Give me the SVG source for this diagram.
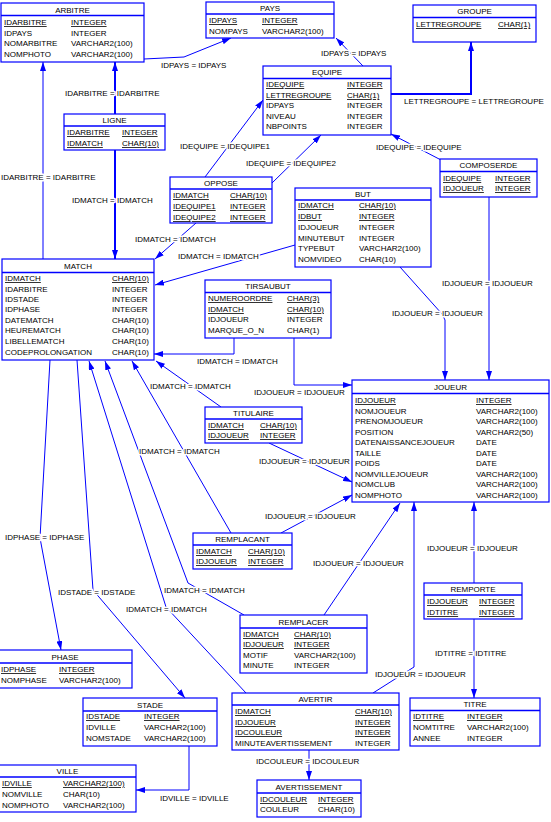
<svg xmlns="http://www.w3.org/2000/svg" width="551" height="822" viewBox="0 0 551 822">
<style>
.n rect{fill:#fff;stroke:#0000ff;stroke-width:1.2}
.n line{stroke:#0000ff;stroke-width:1.5}
text{font-family:"Liberation Sans",Arial,sans-serif;font-size:8px;fill:#000}
.t{text-anchor:middle}
.pk{text-decoration:underline}
.c polyline{fill:none;stroke:#0000ff;stroke-width:1;marker-end:url(#a)}
.c polyline.w{stroke-width:2}
.l text{paint-order:stroke;stroke:#fff;stroke-width:3px;stroke-linejoin:round}
</style>
<defs>
<marker id="a" viewBox="0 0 9 6" refX="9" refY="3" markerWidth="9" markerHeight="6" markerUnits="userSpaceOnUse" orient="auto">
<path d="M0,0 L9,3 L0,6 z" fill="#0000ff"/>
</marker>
</defs>
<rect width="551" height="822" fill="#fff"/>
<g id="connectors" class="c">
<polyline points="144,59 184,57 231,38"/>
<polyline points="363,66 336,38"/>
<polyline class="w" points="391,94 471,94 471,42"/>
<polyline points="441,160 391,134"/>
<polyline points="489,197 489,380"/>
<polyline class="w" points="115,114 115,62"/>
<polyline class="w" points="115,150 115,259"/>
<polyline points="43,259 43,62"/>
<polyline points="205,177 263,100"/>
<polyline points="272,183 321,135"/>
<polyline points="196,223 155,259"/>
<polyline points="295,245 155,285"/>
<polyline points="234,338 234,354 154,354"/>
<polyline points="294,338 294,385 352,385"/>
<polyline points="221,407 156,361"/>
<polyline points="269,443 352,482"/>
<polyline points="281,533 352,495"/>
<polyline points="231,533 132,361"/>
<polyline points="244,615 188,583 105,361"/>
<polyline points="246,693 166,607 89,361"/>
<polyline points="50,360 40,538 61,650"/>
<polyline points="77,360 93,590 185,698"/>
<polyline points="324,615 400,503"/>
<polyline points="373,693 414,667 414,502"/>
<polyline points="474,583 474,502"/>
<polyline points="474,619 474,698"/>
<polyline points="309,750 309,780"/>
<polyline points="189,746 189,790 136,790"/>
<polyline points="400,267 442,314 445,320 445,380"/>
</g>
<g id="labels" class="l">
<text x="161" y="68">IDPAYS = IDPAYS</text>
<text x="321" y="56">IDPAYS = IDPAYS</text>
<text x="404" y="104">LETTREGROUPE = LETTREGROUPE</text>
<text x="376" y="150">IDEQUIPE = IDEQUIPE</text>
<text x="442" y="286">IDJOUEUR = IDJOUEUR</text>
<text x="65" y="96">IDARBITRE = IDARBITRE</text>
<text x="72" y="203">IDMATCH = IDMATCH</text>
<text x="1" y="180">IDARBITRE = IDARBITRE</text>
<text x="180" y="149">IDEQUIPE = IDEQUIPE1</text>
<text x="246" y="166">IDEQUIPE = IDEQUIPE2</text>
<text x="135" y="242">IDMATCH = IDMATCH</text>
<text x="178" y="259">IDMATCH = IDMATCH</text>
<text x="197" y="364">IDMATCH = IDMATCH</text>
<text x="254" y="395">IDJOUEUR = IDJOUEUR</text>
<text x="150" y="389">IDMATCH = IDMATCH</text>
<text x="259" y="464">IDJOUEUR = IDJOUEUR</text>
<text x="265" y="519">IDJOUEUR = IDJOUEUR</text>
<text x="139" y="454">IDMATCH = IDMATCH</text>
<text x="164" y="593">IDMATCH = IDMATCH</text>
<text x="126" y="612">IDMATCH = IDMATCH</text>
<text x="5" y="540">IDPHASE = IDPHASE</text>
<text x="58" y="595">IDSTADE = IDSTADE</text>
<text x="313" y="566">IDJOUEUR = IDJOUEUR</text>
<text x="375" y="677">IDJOUEUR = IDJOUEUR</text>
<text x="427" y="551">IDJOUEUR = IDJOUEUR</text>
<text x="435" y="656">IDTITRE = IDTITRE</text>
<text x="256" y="764">IDCOULEUR = IDCOULEUR</text>
<text x="160" y="801">IDVILLE = IDVILLE</text>
<text x="392" y="316">IDJOUEUR = IDJOUEUR</text>
</g>
<g id="arbitre" class="n">
<rect x="1" y="3" width="143" height="59"/><line x1="1" y1="15.5" x2="144" y2="15.5"/>
<text class="t" x="72.5" y="13">ARBITRE</text>
<text class="pk" x="4" y="25">IDARBITRE</text><text class="pk" x="71" y="25">INTEGER</text>
<text x="4" y="36">IDPAYS</text><text x="71" y="36">INTEGER</text>
<text x="4" y="46">NOMARBITRE</text><text x="71" y="46">VARCHAR2(100)</text>
<text x="4" y="57">NOMPHOTO</text><text x="71" y="57">VARCHAR2(100)</text>
</g>
<g id="pays" class="n">
<rect x="206" y="2" width="128" height="36"/><line x1="206" y1="14" x2="334" y2="14"/>
<text class="t" x="270" y="11">PAYS</text>
<text class="pk" x="209" y="23">IDPAYS</text><text class="pk" x="262" y="23">INTEGER</text>
<text x="209" y="34">NOMPAYS</text><text x="262" y="34">VARCHAR2(100)</text>
</g>
<g id="groupe" class="n">
<rect x="413" y="5" width="123" height="37"/><line x1="413" y1="17.5" x2="536" y2="17.5"/>
<text class="t" x="474.5" y="14">GROUPE</text>
<text class="pk" x="416" y="27">LETTREGROUPE</text><text class="pk" x="498" y="27">CHAR(1)</text>
</g>
<g id="equipe" class="n">
<rect x="263" y="66" width="128" height="69"/><line x1="263" y1="78.5" x2="391" y2="78.5"/>
<text class="t" x="327" y="75">EQUIPE</text>
<text class="pk" x="266" y="87">IDEQUIPE</text><text class="pk" x="347" y="87">INTEGER</text>
<text class="pk" x="266" y="98">LETTREGROUPE</text><text class="pk" x="347" y="98">CHAR(1)</text>
<text x="266" y="108">IDPAYS</text><text x="347" y="108">INTEGER</text>
<text x="266" y="119">NIVEAU</text><text x="347" y="119">INTEGER</text>
<text x="266" y="129">NBPOINTS</text><text x="347" y="129">INTEGER</text>
</g>
<g id="composerde" class="n">
<rect x="440" y="159" width="97" height="38"/><line x1="440" y1="171.5" x2="537" y2="171.5"/>
<text class="t" x="488.5" y="168">COMPOSERDE</text>
<text class="pk" x="443" y="181">IDEQUIPE</text><text class="pk" x="495" y="181">INTEGER</text>
<text class="pk" x="443" y="191">IDJOUEUR</text><text class="pk" x="495" y="191">INTEGER</text>
</g>
<g id="ligne" class="n">
<rect x="64" y="114" width="101" height="36"/><line x1="64" y1="126" x2="165" y2="126"/>
<text class="t" x="114.5" y="123">LIGNE</text>
<text class="pk" x="67" y="135">IDARBITRE</text><text class="pk" x="122" y="135">INTEGER</text>
<text class="pk" x="67" y="146">IDMATCH</text><text class="pk" x="122" y="146">CHAR(10)</text>
</g>
<g id="oppose" class="n">
<rect x="170" y="177" width="102" height="46"/><line x1="170" y1="189" x2="272" y2="189"/>
<text class="t" x="221" y="186">OPPOSE</text>
<text class="pk" x="173" y="198">IDMATCH</text><text class="pk" x="230" y="198">CHAR(10)</text>
<text class="pk" x="173" y="209">IDEQUIPE1</text><text class="pk" x="230" y="209">INTEGER</text>
<text class="pk" x="173" y="220">IDEQUIPE2</text><text class="pk" x="230" y="220">INTEGER</text>
</g>
<g id="but" class="n">
<rect x="295" y="188" width="136" height="79"/><line x1="295" y1="200" x2="431" y2="200"/>
<text class="t" x="363" y="197">BUT</text>
<text class="pk" x="298" y="208">IDMATCH</text><text class="pk" x="359" y="208">CHAR(10)</text>
<text class="pk" x="298" y="219">IDBUT</text><text class="pk" x="359" y="219">INTEGER</text>
<text x="298" y="230">IDJOUEUR</text><text x="359" y="230">INTEGER</text>
<text x="298" y="241">MINUTEBUT</text><text x="359" y="241">INTEGER</text>
<text x="298" y="251">TYPEBUT</text><text x="359" y="251">VARCHAR2(100)</text>
<text x="298" y="262">NOMVIDEO</text><text x="359" y="262">CHAR(10)</text>
</g>
<g id="match" class="n">
<rect x="2" y="259" width="152" height="101"/><line x1="2" y1="272.5" x2="154" y2="272.5"/>
<text class="t" x="78" y="269">MATCH</text>
<text class="pk" x="5" y="281">IDMATCH</text><text class="pk" x="112" y="281">CHAR(10)</text>
<text x="5" y="291.5">IDARBITRE</text><text x="112" y="291.5">INTEGER</text>
<text x="5" y="302">IDSTADE</text><text x="112" y="302">INTEGER</text>
<text x="5" y="312">IDPHASE</text><text x="112" y="312">INTEGER</text>
<text x="5" y="323">DATEMATCH</text><text x="112" y="323">CHAR(10)</text>
<text x="5" y="333">HEUREMATCH</text><text x="112" y="333">CHAR(10)</text>
<text x="5" y="344">LIBELLEMATCH</text><text x="112" y="344">CHAR(10)</text>
<text x="5" y="355">CODEPROLONGATION</text><text x="112" y="355">CHAR(10)</text>
</g>
<g id="tirsaubut" class="n">
<rect x="205" y="280" width="126" height="58"/><line x1="205" y1="292.5" x2="331" y2="292.5"/>
<text class="t" x="268" y="289">TIRSAUBUT</text>
<text class="pk" x="208" y="301">NUMEROORDRE</text><text class="pk" x="287" y="301">CHAR(3)</text>
<text class="pk" x="208" y="312">IDMATCH</text><text class="pk" x="287" y="312">CHAR(10)</text>
<text x="208" y="322">IDJOUEUR</text><text x="287" y="322">INTEGER</text>
<text x="208" y="333">MARQUE_O_N</text><text x="287" y="333">CHAR(1)</text>
</g>
<g id="joueur" class="n">
<rect x="352" y="380" width="197" height="122"/><line x1="352" y1="393.5" x2="549" y2="393.5"/>
<text class="t" x="450.5" y="390">JOUEUR</text>
<text class="pk" x="355" y="403">IDJOUEUR</text><text class="pk" x="476" y="403">INTEGER</text>
<text x="355" y="413.5">NOMJOUEUR</text><text x="476" y="413.5">VARCHAR2(100)</text>
<text x="355" y="424">PRENOMJOUEUR</text><text x="476" y="424">VARCHAR2(100)</text>
<text x="355" y="434.5">POSITION</text><text x="476" y="434.5">VARCHAR2(50)</text>
<text x="355" y="445">DATENAISSANCEJOUEUR</text><text x="476" y="445">DATE</text>
<text x="355" y="455.5">TAILLE</text><text x="476" y="455.5">DATE</text>
<text x="355" y="466">POIDS</text><text x="476" y="466">DATE</text>
<text x="355" y="476.5">NOMVILLEJOUEUR</text><text x="476" y="476.5">VARCHAR2(100)</text>
<text x="355" y="487">NOMCLUB</text><text x="476" y="487">VARCHAR2(100)</text>
<text x="355" y="497.5">NOMPHOTO</text><text x="476" y="497.5">VARCHAR2(100)</text>
</g>
<g id="titulaire" class="n">
<rect x="205" y="407" width="97" height="36"/><line x1="205" y1="419" x2="302" y2="419"/>
<text class="t" x="253.5" y="416">TITULAIRE</text>
<text class="pk" x="208" y="428">IDMATCH</text><text class="pk" x="260" y="428">CHAR(10)</text>
<text class="pk" x="208" y="438">IDJOUEUR</text><text class="pk" x="260" y="438">INTEGER</text>
</g>
<g id="remplacant" class="n">
<rect x="193" y="533" width="99" height="36"/><line x1="193" y1="545" x2="292" y2="545"/>
<text class="t" x="242.5" y="542">REMPLACANT</text>
<text class="pk" x="196" y="554">IDMATCH</text><text class="pk" x="248" y="554">CHAR(10)</text>
<text class="pk" x="196" y="564">IDJOUEUR</text><text class="pk" x="248" y="564">INTEGER</text>
</g>
<g id="remplacer" class="n">
<rect x="240" y="615" width="127" height="58"/><line x1="240" y1="628" x2="367" y2="628"/>
<text class="t" x="303.5" y="625">REMPLACER</text>
<text class="pk" x="243" y="637">IDMATCH</text><text class="pk" x="294" y="637">CHAR(10)</text>
<text class="pk" x="243" y="647">IDJOUEUR</text><text class="pk" x="294" y="647">INTEGER</text>
<text x="243" y="658">MOTIF</text><text x="294" y="658">VARCHAR2(100)</text>
<text x="243" y="668">MINUTE</text><text x="294" y="668">INTEGER</text>
</g>
<g id="remporte" class="n">
<rect x="424" y="583" width="98" height="36"/><line x1="424" y1="595" x2="522" y2="595"/>
<text class="t" x="473" y="592">REMPORTE</text>
<text class="pk" x="427" y="604">IDJOUEUR</text><text class="pk" x="479" y="604">INTEGER</text>
<text class="pk" x="427" y="615">IDTITRE</text><text class="pk" x="479" y="615">INTEGER</text>
</g>
<g id="titre" class="n">
<rect x="410" y="698" width="130" height="48"/><line x1="410" y1="710.5" x2="540" y2="710.5"/>
<text class="t" x="475" y="707">TITRE</text>
<text class="pk" x="413" y="719">IDTITRE</text><text class="pk" x="467" y="719">INTEGER</text>
<text x="413" y="730">NOMTITRE</text><text x="467" y="730">VARCHAR2(100)</text>
<text x="413" y="741">ANNEE</text><text x="467" y="741">INTEGER</text>
</g>
<g id="avertir" class="n">
<rect x="232" y="693" width="167" height="57"/><line x1="232" y1="705" x2="399" y2="705"/>
<text class="t" x="315.5" y="702">AVERTIR</text>
<text class="pk" x="235" y="714">IDMATCH</text><text class="pk" x="355" y="714">CHAR(10)</text>
<text class="pk" x="235" y="725">IDJOUEUR</text><text class="pk" x="355" y="725">INTEGER</text>
<text class="pk" x="235" y="735">IDCOULEUR</text><text class="pk" x="355" y="735">INTEGER</text>
<text x="235" y="746">MINUTEAVERTISSEMENT</text><text x="355" y="746">INTEGER</text>
</g>
<g id="avertissement" class="n">
<rect x="257" y="780" width="104" height="37"/><line x1="257" y1="793" x2="361" y2="793"/>
<text class="t" x="309" y="790">AVERTISSEMENT</text>
<text class="pk" x="260" y="802">IDCOULEUR</text><text class="pk" x="318" y="802">INTEGER</text>
<text x="260" y="812">COULEUR</text><text x="318" y="812">CHAR(10)</text>
</g>
<g id="phase" class="n">
<rect x="-2" y="650" width="134" height="38"/><line x1="-2" y1="663" x2="132" y2="663"/>
<text class="t" x="65" y="660">PHASE</text>
<text class="pk" x="1" y="672">IDPHASE</text><text class="pk" x="59" y="672">INTEGER</text>
<text x="1" y="683">NOMPHASE</text><text x="59" y="683">VARCHAR2(100)</text>
</g>
<g id="stade" class="n">
<rect x="83" y="698" width="134" height="48"/><line x1="83" y1="711" x2="217" y2="711"/>
<text class="t" x="150" y="708">STADE</text>
<text class="pk" x="86" y="719">IDSTADE</text><text class="pk" x="144" y="719">INTEGER</text>
<text x="86" y="730">IDVILLE</text><text x="144" y="730">VARCHAR2(100)</text>
<text x="86" y="741">NOMSTADE</text><text x="144" y="741">VARCHAR2(100)</text>
</g>
<g id="ville" class="n">
<rect x="-1" y="765" width="137" height="47"/><line x1="-1" y1="777" x2="136" y2="777"/>
<text class="t" x="67.5" y="774">VILLE</text>
<text class="pk" x="2" y="786">IDVILLE</text><text class="pk" x="63" y="786">VARCHAR2(100)</text>
<text x="2" y="797">NOMVILLE</text><text x="63" y="797">CHAR(10)</text>
<text x="2" y="808">NOMPHOTO</text><text x="63" y="808">VARCHAR2(100)</text>
</g>
</svg>
